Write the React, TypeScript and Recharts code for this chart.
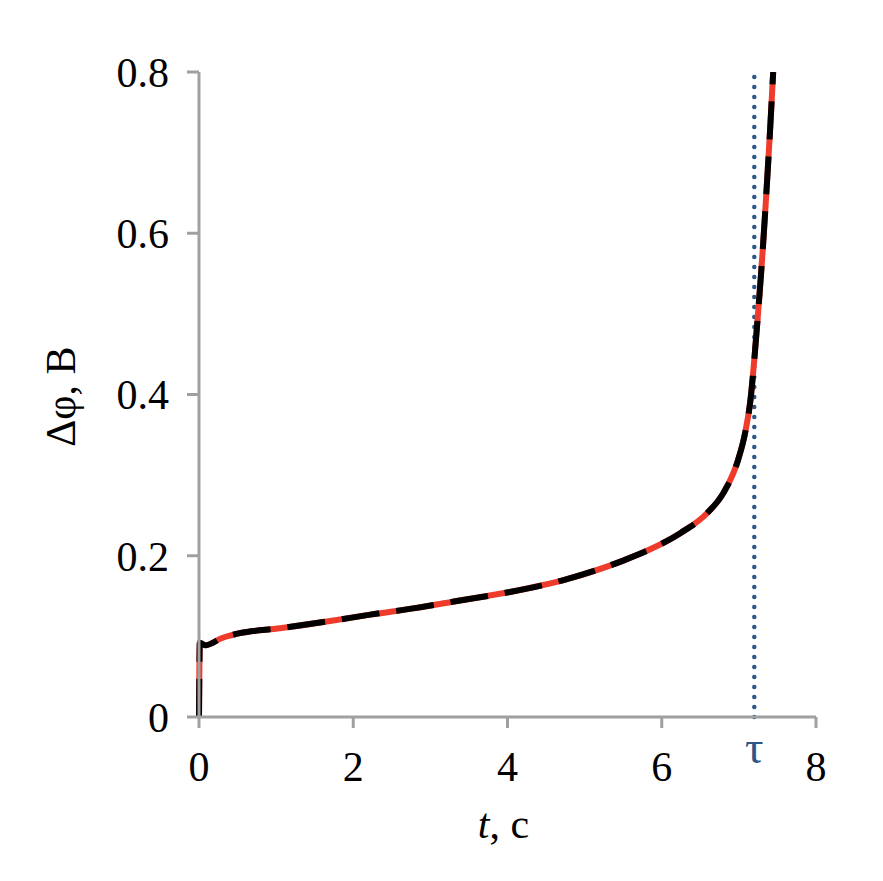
import React from "react";
import { LineChart, Line, XAxis, YAxis, ReferenceLine, Label } from "recharts";

// t, c
const timeValues = [
  0, 0.004, 0.01, 0.08, 0.3, 0.53, 1.05, 1.7, 2.22, 2.8, 3.29, 4.03, 4.77, 5.5,
  5.85, 6.24, 6.59, 6.8, 6.99, 7.08, 7.15, 7.2, 7.24, 7.28, 7.31, 7.35, 7.4, 7.445,
];
// Δφ, B
const phiValues = [
  0, 0.05, 0.092, 0.089, 0.098, 0.104, 0.11, 0.119, 0.127, 0.135, 0.143, 0.155,
  0.171, 0.194, 0.208, 0.228, 0.253, 0.278, 0.319, 0.352, 0.393, 0.443, 0.49,
  0.54, 0.58, 0.64, 0.72, 0.8,
];
const xTicks = [0, 2, 4, 6, 8];
const yTicks = [0, 0.2, 0.4, 0.6, 0.8];
const tau = 7.2;

const data = timeValues.map((t, i) => ({ t, phi: phiValues[i] }));

const FONT = "Liberation Serif, Times New Roman, DejaVu Serif, serif";
const FS = 42;
const AXIS = "#a0a0a0";
const BLUE = "#2b5788";

const XTitle = (props: any) => {
  const { viewBox } = props;
  const cx = viewBox.x + viewBox.width / 2 - 4;
  return (
    <text x={cx} y={viewBox.y + 121} textAnchor="middle" style={{ fontFamily: FONT }} fontSize={FS} fill="#000">
      <tspan fontStyle="italic">t</tspan>
      <tspan>, c</tspan>
    </text>
  );
};

const YTitle = (props: any) => {
  const { viewBox } = props;
  const x = viewBox.x + 75;
  const y = viewBox.y + viewBox.height / 2 + 2;
  return (
    <text x={x} y={y} transform={`rotate(-90 ${x} ${y})`} textAnchor="middle" style={{ fontFamily: FONT }} fontSize={FS} fill="#000">
      Δφ, B
    </text>
  );
};

const TauLabel = (props: any) => {
  const { viewBox } = props;
  return (
    <text x={viewBox.x} y={viewBox.y + viewBox.height + 46} textAnchor="middle" style={{ fontFamily: FONT }} fontSize={46} fill={BLUE}>
      τ
    </text>
  );
};

const tickStyle = { fontFamily: FONT, fontSize: FS, fill: "#000" };

export default function App() {
  return (
    <div style={{ position: "absolute", left: 0, top: 0, background: "#fff" }}>
      <LineChart width={883} height={881} data={data} margin={{ top: 72, right: 67, left: 0, bottom: 104 }}>
        <XAxis
          dataKey="t"
          type="number"
          domain={[0, 8]}
          ticks={xTicks}
          stroke={AXIS}
          strokeWidth={3}
          tickSize={11}
          tickMargin={23}
          height={60}
          tick={tickStyle}
          tickLine={{ stroke: AXIS, strokeWidth: 3 }}
        >
          <Label content={XTitle} />
        </XAxis>
        <YAxis
          type="number"
          domain={[0, 0.8]}
          ticks={yTicks}
          allowDataOverflow
          stroke={AXIS}
          strokeWidth={3}
          tickSize={12}
          tickMargin={18}
          width={199}
          tickFormatter={(v: number) => (v === 0 ? "0" : v.toFixed(1))}
          tick={tickStyle}
          tickLine={{ stroke: AXIS, strokeWidth: 3 }}
        >
          <Label content={YTitle} />
        </YAxis>
        <ReferenceLine
          x={tau}
          stroke={BLUE}
          strokeWidth={4.5}
          strokeDasharray="0 10"
          strokeLinecap="round"
          label={<TauLabel />}
        />
        <Line
          type="monotone"
          dataKey="phi"
          stroke="#ee3b2b"
          strokeWidth={6}
          dot={false}
          isAnimationActive={false}
        />
        <Line
          type="monotone"
          dataKey="phi"
          stroke="#000"
          strokeWidth={6}
          strokeDasharray="38 17"
          dot={false}
          isAnimationActive={false}
        />
      </LineChart>
    </div>
  );
}
